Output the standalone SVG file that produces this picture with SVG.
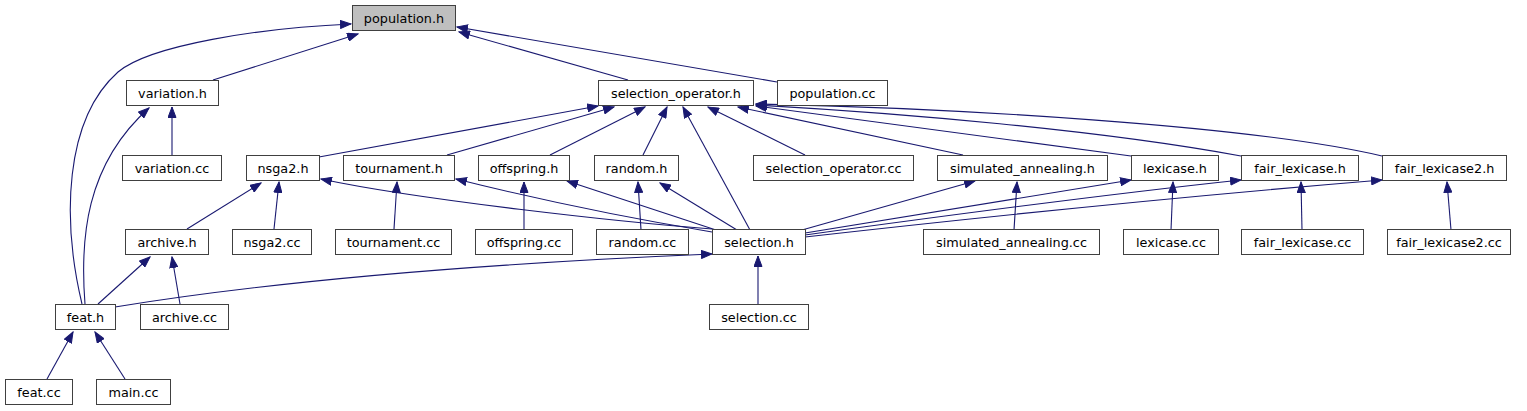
<svg xmlns="http://www.w3.org/2000/svg" width="1527" height="411" viewBox="0 0 1527 411">
<style>
.n rect{fill:#ffffff;stroke:#404040;stroke-width:1}
.n text{font-family:"DejaVu Sans",sans-serif;font-size:12.8px;fill:#000;text-anchor:middle}
#n_population_h rect{fill:#bfbfbf}
#edges path{fill:none;stroke:#191970;stroke-width:1.1;marker-end:url(#ah)}
</style>
<defs>
<marker id="ah" markerWidth="12" markerHeight="9" refX="11" refY="4.5" orient="auto" markerUnits="userSpaceOnUse">
<path d="M0.5,0.5 L11,4.5 L0.5,8.5 z" fill="#191970" stroke="#191970" stroke-width="1"/>
</marker>
</defs>
<rect width="1527" height="411" fill="#ffffff"/>
<g id="edges">
<path d="M213,80 L358,34"/>
<path d="M82,304 C62,220 64,120 118,72 C150,45 260,28 351,24"/>
<path d="M628,80 L459,32"/>
<path d="M777,82 L457,27"/>
<path d="M172,155 L172,107"/>
<path d="M85,304 C80,240 85,165 149,108"/>
<path d="M319,157 L598,106"/>
<path d="M447,155 L614,107"/>
<path d="M550,155 L645,107"/>
<path d="M643,155 L667,107"/>
<path d="M750,230 L683,107"/>
<path d="M805,155 L708,107"/>
<path d="M963,155 L738,107"/>
<path d="M1131,156 L756,106"/>
<path d="M1241,156 C1100,130 900,113 756,105"/>
<path d="M1382,156 C1250,125 950,108 756,104"/>
<path d="M187,229 L261,183"/>
<path d="M274,229 L279,182"/>
<path d="M712,229 C620,222 420,200 321,179"/>
<path d="M394,229 L397,182"/>
<path d="M712,232 C640,220 540,200 456,179"/>
<path d="M524,230 L524,182"/>
<path d="M716,230 L567,181"/>
<path d="M641,230 L638,182"/>
<path d="M737,230 L660,183"/>
<path d="M802,230 L975,181"/>
<path d="M1014,230 L1017,182"/>
<path d="M805,233 L1131,180"/>
<path d="M1171,230 L1173,182"/>
<path d="M805,235 C950,215 1100,195 1241,180"/>
<path d="M1302,230 L1301,182"/>
<path d="M805,237 C1000,215 1200,195 1382,180"/>
<path d="M1451,230 L1447,182"/>
<path d="M98,304 L150,257"/>
<path d="M180,304 L172,257"/>
<path d="M115,307 C250,285 450,265 712,254"/>
<path d="M758,304 L758,256"/>
<path d="M47,379 L73,332"/>
<path d="M125,379 L95,332"/>
</g>
<g id="n_population_h" class="n"><rect x="352.5" y="5.5" width="103" height="25"/><text x="404" y="23">population.h</text></g>
<g id="n_variation_h" class="n"><rect x="126.5" y="80.5" width="92" height="25"/><text x="172.5" y="98">variation.h</text></g>
<g id="n_selection_operator_h" class="n"><rect x="598.5" y="80.5" width="155" height="25"/><text x="676" y="98">selection_operator.h</text></g>
<g id="n_population_cc" class="n"><rect x="777.5" y="80.5" width="110" height="25"/><text x="832.5" y="98">population.cc</text></g>
<g id="n_variation_cc" class="n"><rect x="122.5" y="155.5" width="99" height="25"/><text x="172" y="173">variation.cc</text></g>
<g id="n_nsga2_h" class="n"><rect x="246.5" y="155.5" width="73" height="25"/><text x="283" y="173">nsga2.h</text></g>
<g id="n_tournament_h" class="n"><rect x="343.5" y="155.5" width="111" height="25"/><text x="399" y="173">tournament.h</text></g>
<g id="n_offspring_h" class="n"><rect x="478.5" y="155.5" width="91" height="25"/><text x="524" y="173">offspring.h</text></g>
<g id="n_random_h" class="n"><rect x="594.5" y="155.5" width="84" height="25"/><text x="636.5" y="173">random.h</text></g>
<g id="n_selection_operator_cc" class="n"><rect x="753.5" y="155.5" width="160" height="25"/><text x="833.5" y="173">selection_operator.cc</text></g>
<g id="n_simulated_annealing_h" class="n"><rect x="937.5" y="155.5" width="170" height="25"/><text x="1022.5" y="173">simulated_annealing.h</text></g>
<g id="n_lexicase_h" class="n"><rect x="1131.5" y="155.5" width="87" height="25"/><text x="1175" y="173">lexicase.h</text></g>
<g id="n_fair_lexicase_h" class="n"><rect x="1241.5" y="155.5" width="117" height="25"/><text x="1300" y="173">fair_lexicase.h</text></g>
<g id="n_fair_lexicase2_h" class="n"><rect x="1382.5" y="155.5" width="124" height="25"/><text x="1444.5" y="173">fair_lexicase2.h</text></g>
<g id="n_archive_h" class="n"><rect x="125.5" y="229.5" width="83" height="25"/><text x="167" y="247">archive.h</text></g>
<g id="n_nsga2_cc" class="n"><rect x="232.5" y="229.5" width="79" height="25"/><text x="272" y="247">nsga2.cc</text></g>
<g id="n_tournament_cc" class="n"><rect x="335.5" y="229.5" width="116" height="25"/><text x="393.5" y="247">tournament.cc</text></g>
<g id="n_offspring_cc" class="n"><rect x="475.5" y="229.5" width="97" height="25"/><text x="524" y="247">offspring.cc</text></g>
<g id="n_random_cc" class="n"><rect x="596.5" y="229.5" width="92" height="25"/><text x="642.5" y="247">random.cc</text></g>
<g id="n_selection_h" class="n"><rect x="712.5" y="229.5" width="93" height="25"/><text x="759" y="247">selection.h</text></g>
<g id="n_simulated_annealing_cc" class="n"><rect x="923.5" y="229.5" width="176" height="25"/><text x="1011.5" y="247">simulated_annealing.cc</text></g>
<g id="n_lexicase_cc" class="n"><rect x="1123.5" y="229.5" width="95" height="25"/><text x="1171" y="247">lexicase.cc</text></g>
<g id="n_fair_lexicase_cc" class="n"><rect x="1241.5" y="229.5" width="122" height="25"/><text x="1302.5" y="247">fair_lexicase.cc</text></g>
<g id="n_fair_lexicase2_cc" class="n"><rect x="1387.5" y="229.5" width="123" height="25"/><text x="1449" y="247">fair_lexicase2.cc</text></g>
<g id="n_feat_h" class="n"><rect x="55.5" y="304.5" width="60" height="25"/><text x="85.5" y="322">feat.h</text></g>
<g id="n_archive_cc" class="n"><rect x="140.5" y="304.5" width="88" height="25"/><text x="184.5" y="322">archive.cc</text></g>
<g id="n_selection_cc" class="n"><rect x="709.5" y="304.5" width="99" height="25"/><text x="759" y="322">selection.cc</text></g>
<g id="n_feat_cc" class="n"><rect x="5.5" y="379.5" width="67" height="25"/><text x="39" y="397">feat.cc</text></g>
<g id="n_main_cc" class="n"><rect x="96.5" y="379.5" width="74" height="25"/><text x="133.5" y="397">main.cc</text></g>
</svg>
